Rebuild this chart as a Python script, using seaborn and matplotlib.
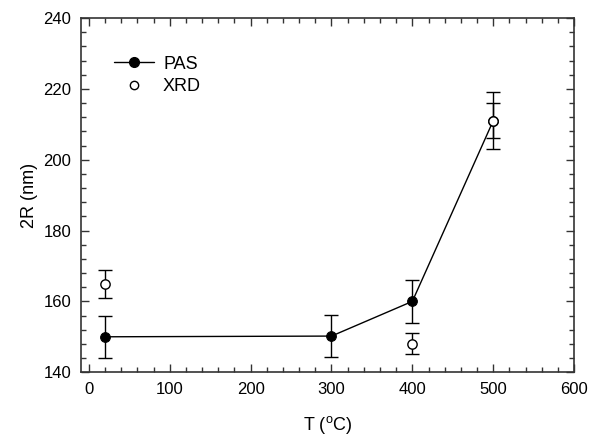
import matplotlib
matplotlib.use("Agg")
import matplotlib.pyplot as plt
import seaborn as sns
import pandas as pd
from matplotlib.ticker import MultipleLocator
from matplotlib.lines import Line2D

sns.set_style("ticks")
plt.rcParams['font.family'] = ['Liberation Sans', 'DejaVu Sans']
plt.rcParams['mathtext.fontset'] = 'custom'
plt.rcParams['mathtext.rm'] = 'Liberation Sans'
plt.rcParams['text.color'] = 'black'
plt.rcParams['axes.labelcolor'] = 'black'
plt.rcParams['xtick.labelcolor'] = 'black'
plt.rcParams['ytick.labelcolor'] = 'black'

# data
pas_T = [20, 300, 400, 500]
pas_2R = [150, 150.2, 160, 211]
pas_err = [6, 6, 6, 5]

xrd_T = [20, 400, 500]
xrd_2R = [165, 148, 211]
xrd_err = [4, 3, 8]

pas = pd.DataFrame({'T': pas_T, '2R': pas_2R})
xrd = pd.DataFrame({'T': xrd_T, '2R': xrd_2R})

fig = plt.figure(figsize=(5.9, 4.41), dpi=100)
ax = fig.add_axes([0.137, 0.156, 0.836, 0.803])

ax.errorbar(pas_T, pas_2R, yerr=pas_err, fmt='none', ecolor='black',
            elinewidth=1, capsize=5, capthick=1, zorder=2)
ax.errorbar(xrd_T, xrd_2R, yerr=xrd_err, fmt='none', ecolor='black',
            elinewidth=1, capsize=5, capthick=1, zorder=2)

sns.lineplot(data=pas, x='T', y='2R', color='black', lw=1, marker='o',
             markersize=7, markerfacecolor='black', markeredgecolor='black',
             ax=ax, zorder=3)
sns.scatterplot(data=xrd, x='T', y='2R', marker='o', s=45, facecolor='white',
                edgecolor='black', linewidth=1, ax=ax, zorder=4)

ax.set_xlim(-10, 600)
ax.set_ylim(140, 240)
ax.xaxis.set_major_locator(MultipleLocator(100))
ax.xaxis.set_minor_locator(MultipleLocator(20))
ax.yaxis.set_major_locator(MultipleLocator(20))
ax.yaxis.set_minor_locator(MultipleLocator(4))
ax.tick_params(which='both', direction='in', top=True, right=True,
               color='#333333', labelcolor='black', labelsize=12, pad=7)
ax.tick_params(which='major', length=6, width=1)
ax.tick_params(which='minor', length=3.5, width=1)
for s in ax.spines.values():
    s.set_color('#333333')
    s.set_linewidth(1.2)

ax.set_xlabel(r'T ($^{\rm o}$C)', fontsize=13, labelpad=12, color='black')
ax.set_ylabel('2R (nm)', fontsize=13, labelpad=4, color='black')

handles = [
    Line2D([], [], color='black', lw=1, marker='o', markersize=7,
           markerfacecolor='black'),
    Line2D([], [], color='none', marker='o', markersize=6,
           markerfacecolor='white', markeredgecolor='black'),
]
ax.legend(handles, ['PAS', 'XRD'], loc='upper left', frameon=False,
          fontsize=13, handlelength=2.2, handletextpad=0.5,
          labelspacing=0.3, bbox_to_anchor=(0.035, 0.94))

fig.savefig('out.png', dpi=100)
